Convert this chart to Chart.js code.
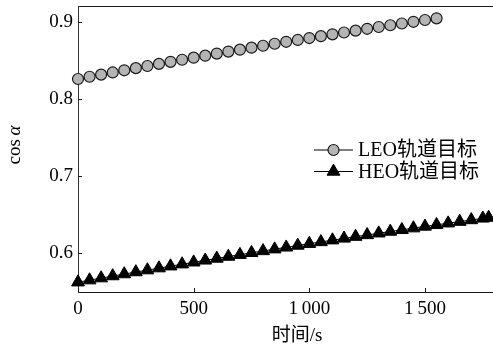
<!DOCTYPE html>
<html>
<head>
<meta charset="utf-8">
<script src="https://cdn.jsdelivr.net/npm/chart.js@4/dist/chart.umd.min.js"></script>
<style>
html,body{margin:0;padding:0;background:#fff;overflow:hidden;}
#wrap{width:493px;height:345px;}
</style>
</head>
<body>
<div id="wrap"><canvas id="c" width="493" height="345"></canvas></div>
<script>
// ---- data ----
const leoTime = [0,50,100,150,200,250,300,350,400,450,500,550,600,650,700,750,800,850,900,950,1000,1050,1100,1150,1200,1250,1300,1350,1400,1450,1500,1550];
const leoValue = [0.826,0.8289,0.8317,0.8345,0.8373,0.8401,0.8429,0.8456,0.8483,0.8510,0.8537,0.8563,0.8590,0.8616,0.8641,0.8667,0.8692,0.8718,0.8743,0.8767,0.8792,0.8816,0.8840,0.8864,0.8888,0.8912,0.8935,0.8958,0.8981,0.9003,0.9026,0.9048];
const heoTime = [0,50,100,150,200,250,300,350,400,450,500,550,600,650,700,750,800,850,900,950,1000,1050,1100,1150,1200,1250,1300,1350,1400,1450,1500,1550,1600,1650,1700,1750,1775];
const heoValue = [0.5621,0.5648,0.5674,0.5701,0.5727,0.5753,0.5778,0.5804,0.5829,0.5855,0.5880,0.5905,0.5929,0.5954,0.5978,0.6003,0.6027,0.6050,0.6074,0.6098,0.6121,0.6144,0.6167,0.6190,0.6213,0.6235,0.6257,0.6279,0.6301,0.6323,0.6345,0.6366,0.6387,0.6408,0.6429,0.6450,0.6460];
const seriesNames = ['LEO轨道目标','HEO轨道目标'];
const xTicks = [0,500,1000,1500];
const xTickLabels = ['0','500','1\u2009000','1\u2009500'];
const yTicks = [0.6,0.7,0.8,0.9];
const yTickLabels = ['0.6','0.7','0.8','0.9'];
const xTitle = '时间/s';

const SERIF = '"Liberation Serif","Noto Sans CJK SC",serif';
const AXIS = '#1a1a1a';

const toXY = (xs, ys) => xs.map((x, i) => ({x: x, y: ys[i]}));

const frame = {
  id: 'frame',
  beforeDatasetsDraw(chart) {
    const {ctx, chartArea: a, scales: {x, y}} = chart;
    ctx.save();
    ctx.strokeStyle = AXIS;
    ctx.lineWidth = 1;
    ctx.beginPath();
    ctx.moveTo(a.left, a.top + 0.5);
    ctx.lineTo(a.right, a.top + 0.5);
    yTicks.forEach(v => {
      const py = Math.round(y.getPixelForValue(v)) + 0.5;
      ctx.moveTo(a.left, py); ctx.lineTo(a.left + 4, py);
    });
    xTicks.forEach(v => {
      const px = Math.round(x.getPixelForValue(v)) + 0.5;
      ctx.moveTo(px, a.bottom); ctx.lineTo(px, a.bottom - 4);
    });
    ctx.stroke();
    // axis titles
    ctx.fillStyle = '#000';
    ctx.textBaseline = 'middle';
    ctx.textAlign = 'center';
    ctx.font = '19px ' + SERIF;
    ctx.fillText(xTitle, 297, 336);
    ctx.translate(15, 145);
    ctx.rotate(-Math.PI / 2);
    ctx.font = '19px ' + SERIF;
    const w1 = ctx.measureText('cos\u2009').width;
    ctx.font = 'italic 19px ' + SERIF;
    const w2 = ctx.measureText('α').width;
    ctx.textAlign = 'left';
    ctx.font = '19px ' + SERIF;
    ctx.fillText('cos\u2009', -(w1 + w2) / 2, 0);
    ctx.font = 'italic 19px ' + SERIF;
    ctx.fillText('α', -(w1 + w2) / 2 + w1, 0);
    ctx.restore();
  },
  afterDatasetsDraw(chart) {
    const {ctx} = chart;
    const rows = [150, 171.5];
    ctx.save();
    chart.data.datasets.forEach((ds, i) => {
      const yy = rows[i];
      ctx.strokeStyle = ds.borderColor;
      ctx.lineWidth = 1;
      ctx.beginPath();
      ctx.moveTo(314, yy); ctx.lineTo(353, yy);
      ctx.stroke();
      ctx.fillStyle = ds.pointBackgroundColor;
      ctx.strokeStyle = ds.pointBorderColor;
      ctx.lineWidth = ds.pointBorderWidth;
      const cx = 333.5, r = ds.pointRadius;
      ctx.beginPath();
      if (ds.pointStyle === 'triangle') {
        ctx.moveTo(cx, yy - r);
        ctx.lineTo(cx + 0.866 * r, yy + 0.5 * r);
        ctx.lineTo(cx - 0.866 * r, yy + 0.5 * r);
        ctx.closePath();
      } else {
        ctx.arc(cx, yy, r, 0, Math.PI * 2);
      }
      ctx.fill(); ctx.stroke();
      ctx.fillStyle = '#000';
      ctx.font = '20px ' + SERIF;
      ctx.textAlign = 'left';
      ctx.textBaseline = 'middle';
      ctx.fillText(ds.label, 358, yy + 1);
    });
    ctx.restore();
  }
};

new Chart(document.getElementById('c'), {
  type: 'line',
  data: {
    datasets: [
      {
        label: seriesNames[0],
        data: toXY(leoTime, leoValue),
        borderColor: '#000', borderWidth: 1,
        pointStyle: 'circle', pointRadius: 5.5,
        pointBackgroundColor: '#b4b4b4', pointBorderColor: '#1a1a1a', pointBorderWidth: 1.2,
        clip: false, tension: 0
      },
      {
        label: seriesNames[1],
        data: toXY(heoTime, heoValue),
        borderColor: '#000', borderWidth: 1,
        pointStyle: 'triangle', pointRadius: 7.4,
        pointBackgroundColor: '#000', pointBorderColor: '#000', pointBorderWidth: 1,
        clip: false, tension: 0
      }
    ]
  },
  options: {
    responsive: false,
    animation: false,
    events: [],
    layout: {autoPadding: false, padding: {top: 6, left: 0, right: 0, bottom: 0}},
    plugins: {legend: {display: false}, tooltip: {enabled: false}},
    scales: {
      x: {
        type: 'linear', min: 0, max: 1794,
        grid: {display: false, drawTicks: false},
        border: {display: true, color: AXIS, width: 1},
        afterBuildTicks: s => { s.ticks = xTicks.map(v => ({value: v})); },
        ticks: {
          padding: 6, color: '#000', maxRotation: 0, autoSkip: false,
          font: {family: SERIF, size: 19},
          callback: (v) => xTickLabels[xTicks.indexOf(v)]
        },
        afterFit: s => { s.height = 53; s.paddingLeft = 0; s.paddingRight = 0; s.paddingTop = 0; s.paddingBottom = 0; }
      },
      y: {
        type: 'linear', min: 0.5494, max: 0.9208,
        grid: {display: false, drawTicks: false},
        border: {display: true, color: '#333', width: 1},
        afterBuildTicks: s => { s.ticks = yTicks.map(v => ({value: v})); },
        ticks: {
          padding: 5, color: '#000', autoSkip: false,
          font: {family: SERIF, size: 19},
          callback: (v) => yTickLabels[yTicks.indexOf(v)]
        },
        afterFit: s => { s.width = 78; s.paddingLeft = 0; s.paddingRight = 0; s.paddingTop = 0; s.paddingBottom = 0; }
      }
    }
  },
  plugins: [frame]
});
</script>
</body>
</html>
